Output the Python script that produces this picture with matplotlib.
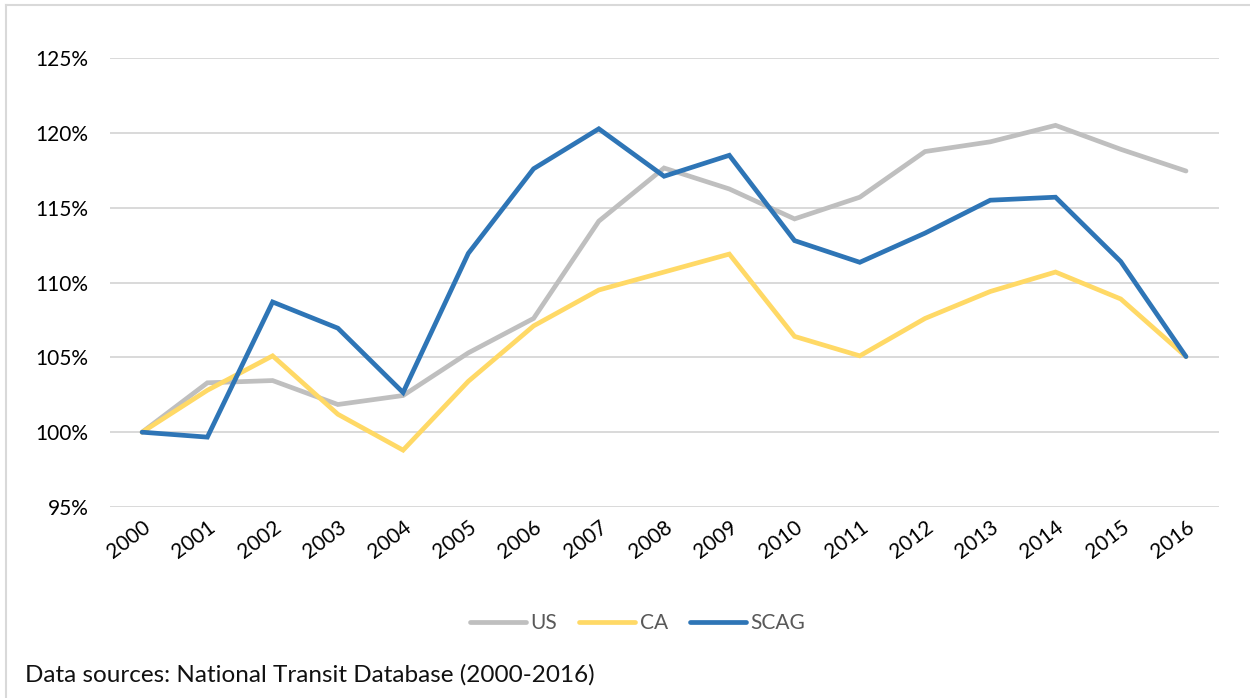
import matplotlib
matplotlib.use("Agg")
import matplotlib.pyplot as plt
from matplotlib.lines import Line2D

years = [str(y) for y in range(2000, 2017)]
us = [100.0, 103.3, 103.45, 101.85, 102.45, 105.3, 107.6, 114.1, 117.65, 116.25,
      114.25, 115.7, 118.75, 119.4, 120.5, 118.9, 117.45]
ca = [100.0, 102.8, 105.1, 101.2, 98.8, 103.4, 107.1, 109.5, 110.7, 111.9,
      106.4, 105.1, 107.6, 109.4, 110.7, 108.9, 105.05]
scag = [100.0, 99.67, 108.7, 106.95, 102.65, 111.95, 117.6, 120.27, 117.1, 118.5,
        112.8, 111.35, 113.3, 115.5, 115.7, 111.4, 105.05]
yticks = [95, 100, 105, 110, 115, 120, 125]
series_names = ["US", "CA", "SCAG"]
colors = ["#BFBFBF", "#FFD966", "#2E75B6"]
footer = "Data sources: National Transit Database (2000-2016)"

plt.rcParams['font.family'] = ['Lato', 'DejaVu Sans']

fig = plt.figure(figsize=(12.5, 6.98), dpi=100)
ax = fig.add_axes([0.0876, 0.2736, 0.9749 - 0.0876, 0.9169 - 0.2736])

x = list(range(len(years)))
for vals, c in zip([us, ca, scag], colors):
    ax.plot(x, vals, color=c, linewidth=3.4, solid_capstyle='round',
            solid_joinstyle='miter', zorder=3)

ax.set_xlim(-0.5, len(years) - 0.5)
ax.set_ylim(95, 125)
ax.set_yticks(yticks)
ax.set_yticklabels([f"{t}%" for t in yticks])
ax.set_xticks(x)
ax.set_xticklabels(years, rotation=37, ha='right', rotation_mode='anchor')
ax.grid(axis='y', color='#D9D9D9', linewidth=1.4, zorder=0)
ax.set_axisbelow(True)
for s in ax.spines.values():
    s.set_visible(False)
ax.tick_params(axis='both', length=0, labelsize=15, colors='#000000')
ax.tick_params(axis='y', pad=15)
ax.tick_params(axis='x', pad=7)

handles = [Line2D([0], [0], color=c, linewidth=3.4, solid_capstyle='round')
           for c in colors]
leg = fig.legend(handles, series_names, loc='center', bbox_to_anchor=(0.510, 1 - 623 / 698),
                 ncol=3, frameon=False, fontsize=15, handlelength=2.7,
                 handletextpad=0.2, columnspacing=1.05)
for t in leg.get_texts():
    t.set_color('#595959')

fig.text(25 / 1250, 1 - 675 / 698, footer, fontsize=17.5, color='#111111',
         ha='left', va='center')

# chart-area frame (top and left edges)
fig.add_artist(Line2D([6 / 1250, 6 / 1250], [0, 1 - 5 / 698], transform=fig.transFigure,
                      color='#D9D9D9', linewidth=1.5))
fig.add_artist(Line2D([6 / 1250, 1], [1 - 5 / 698, 1 - 5 / 698], transform=fig.transFigure,
                      color='#D9D9D9', linewidth=1.5))

fig.savefig("out.png", dpi=100)
